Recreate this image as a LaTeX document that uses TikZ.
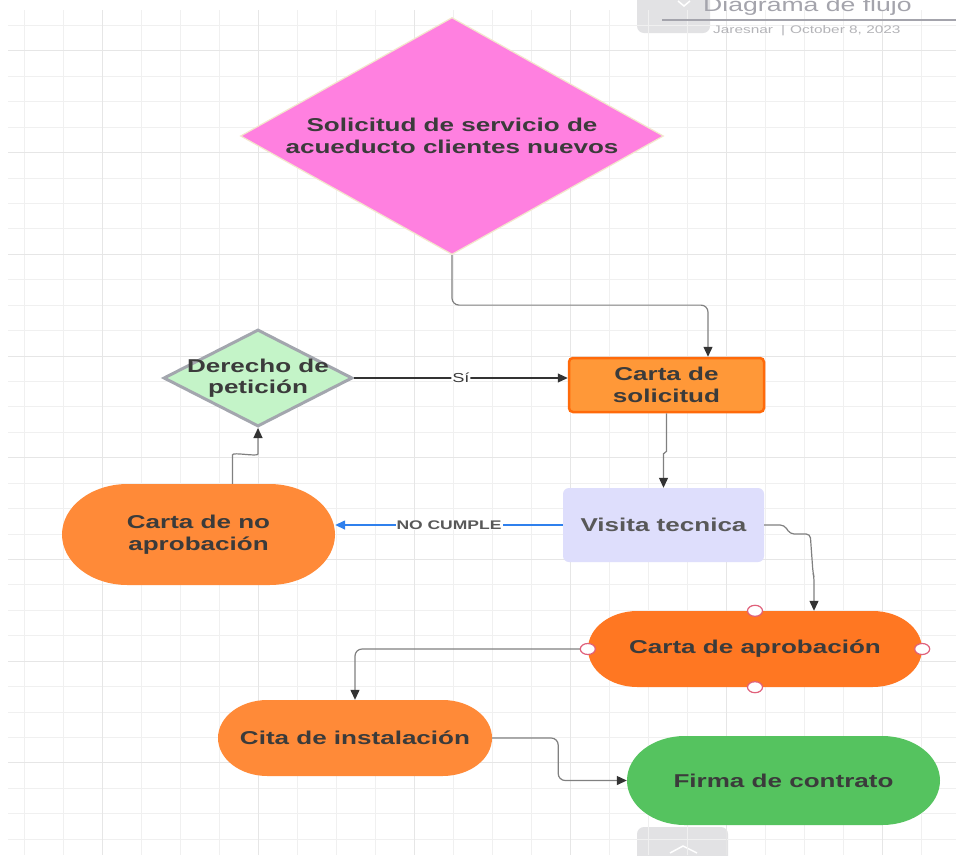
\documentclass[tikz,border=0pt]{standalone}
\usepackage{fontspec}
\setmainfont{Liberation Sans}[FakeStretch=1.4]
\usetikzlibrary{shapes.geometric,arrows.meta,calc}

\definecolor{txt}{HTML}{3B3B3B}
\definecolor{gridminor}{HTML}{F0F0F0}
\definecolor{gridmajor}{HTML}{E6E6E6}
\definecolor{tabgrey}{HTML}{E2E2E4}
\definecolor{hdrgrey}{HTML}{A4A4AC}
\definecolor{metagrey}{HTML}{B4B4B8}
\definecolor{pinkfill}{HTML}{FF80E0}
\definecolor{pinkedge}{HTML}{F3E6CC}
\definecolor{greenlight}{HTML}{C4F4C8}
\definecolor{greyedge}{HTML}{A3A6AE}
\definecolor{orangeA}{HTML}{FF9838}
\definecolor{orangeB}{HTML}{FF6A0A}
\definecolor{orangeC}{HTML}{FF8A38}
\definecolor{orangeD}{HTML}{FF7722}
\definecolor{lavender}{HTML}{DEDEFC}
\definecolor{greenB}{HTML}{55C35F}
\definecolor{linegrey}{HTML}{808080}
\definecolor{tipgrey}{HTML}{333333}
\definecolor{linkblue}{HTML}{2F80ED}
\definecolor{handlered}{HTML}{E0607A}

\begin{document}
\begin{tikzpicture}[x=1pt,y=-1pt,
  boxtext/.style={font=\bfseries\fontsize{18.6}{21.5}\selectfont, text=txt, align=center},
  stad/.style={rectangle, inner sep=0pt, boxtext,
    path picture={
      \fill[#1] let \p1=(path picture bounding box.south west),
                    \p2=(path picture bounding box.north east),
                    \n1={(\y2-\y1)/2}, \n2={1.3*(\y2-\y1)/2} in
        ([xshift=\n2]\x1,\y1) -- ([xshift=-\n2]\x2,\y1)
        arc[start angle=-90, end angle=90, x radius=\n2, y radius=\n1]
        -- ([xshift=\n2]\x1,\y2)
        arc[start angle=90, end angle=270, x radius=\n2, y radius=\n1] -- cycle;
    }},
  handle/.style={ellipse, draw=handlered, fill=white, line width=1.2pt,
    minimum width=15pt, minimum height=11pt, inner sep=0pt},
  conn/.style={draw=linegrey, line width=1.2pt, rounded corners=7pt,
    -{Triangle[length=10pt,width=9pt,color=tipgrey]}},
  darkconn/.style={conn, draw=tipgrey},
  blueconn/.style={draw=linkblue, line width=1.5pt,
    -{Triangle[length=10pt,width=9pt,color=linkblue]}},
  edgelabel/.style={fill=white, inner sep=1pt, text=txt},
]
\useasboundingbox (0,0) rectangle (956,855);
\fill[white] (0,0) rectangle (956,855);

% toolbar tabs at the top and bottom edges
\fill[tabgrey, rounded corners=7pt] (637,-12) rectangle (710,33);
\fill[tabgrey, rounded corners=7pt] (637,827) rectangle (728,875);
\draw[white, line width=1.5pt] (670,853) -- (683,846) -- (697,853);

% background grid
\foreach \k in {0,...,23}
  \draw[gridminor, line width=0.9pt] ({24+39*\k},10) -- ({24+39*\k},855);
\foreach \k in {1,...,33}
  \draw[gridminor, line width=0.9pt] (8,{25.43*\k}) -- (956,{25.43*\k});
\foreach \k in {2,6,...,22}
  \draw[gridmajor, line width=1pt] ({24+39*\k},10) -- ({24+39*\k},855);
\foreach \k in {2,6,...,30}
  \draw[gridmajor, line width=1pt] (8,{25.43*\k}) -- (956,{25.43*\k});

% document header
\node[anchor=base west, inner sep=0pt, text=hdrgrey,
  font=\fontsize{19}{21}\selectfont] (title) at (703,11) {Diagrama de flujo};
\draw[white, line width=1.5pt] (678,1) -- (684,6) -- (690,1);
\draw[hdrgrey, line width=1.5pt] (662,20) -- (956,20);
\node[anchor=base west, inner sep=0pt, text=metagrey,
  font=\fontsize{11}{13}\selectfont] (meta) at (713,33)
  {Jaresnar\hspace{8pt}|\hspace{5pt}October 8, 2023};

% flowchart nodes
\node[diamond, aspect=1.785, minimum width=423pt, minimum height=237pt,
  inner sep=0pt, fill=pinkfill, draw=pinkedge, line width=1.2pt, boxtext]
  (req) at (452,136) {Solicitud de servicio de\\acueducto clientes nuevos};

\node[diamond, aspect=1.92, minimum width=189pt, minimum height=97pt,
  inner sep=0pt, fill=greenlight, draw=greyedge, line width=3pt,
  label={[boxtext]center:{Derecho de\\petición}}] (der) at (258,378) {};

\node[rectangle, rounded corners=4pt, minimum width=195pt, minimum height=54pt,
  fill=orangeA, draw=orangeB, line width=2.5pt, boxtext]
  (cs) at (666.5,385) {Carta de\\solicitud};

\node[rectangle, rounded corners=6pt, minimum width=201pt, minimum height=74pt,
  fill=lavender, boxtext, text=txt!85] (vs) at (663.5,525) {Visita tecnica};

\node[stad=orangeC, minimum width=273pt, minimum height=101pt]
  (cn) at (198.5,534.5) {Carta de no\\aprobación};

\node[stad=orangeD, minimum width=334pt, minimum height=76pt]
  (ca) at (755,649) {Carta de aprobación};

\node[stad=orangeC, minimum width=274pt, minimum height=76pt]
  (ci) at (355,738) {Cita de instalación};

\node[stad=greenB, minimum width=313pt, minimum height=89pt]
  (fc) at (783.5,780.5) {Firma de contrato};

% connectors
\coordinate (csin) at ([xshift=41.5pt]cs.north);
\draw[conn] (req.south) -- ++(0,50) -| (csin);

\draw[darkconn, line width=1.1pt] (der.east) --
  node[edgelabel, font=\fontsize{13}{15}\selectfont] {Sí} (der.east -| cs.west);

\draw[conn, sharp corners] (cs.south) -- ++(0,38)
  -- ($(vs.north)+(0,-34)$) -- (vs.north);

\draw[blueconn] (vs.west) --
  node[edgelabel, font=\bfseries\fontsize{12.5}{14}\selectfont, text=txt!85]
  {NO CUMPLE} (vs.west -| cn.east);

\coordinate (cain) at ([xshift=59pt]ca.north);
\draw[conn, rounded corners=4pt] (vs.east) -- ++(20,0) -- ++(6,9) -- ++(20,0)
  -- ($(cain)+(-1,-38)$) -- ($(cain)+(0,-34)$) -- (cain);

\coordinate (cnout) at ([xshift=34pt]cn.north);
\draw[conn] (cnout) -- ++(0,-22)
  .. controls +(0,-10) and +(0,10) .. ($(der.south)+(0,19)$) -- (der.south);

\draw[conn] (ca.west) -| (ci.north);

\draw[conn] (ci.east) -- ++(66,0) |- (fc.west);

% selection handles on the approval node
\node[handle] (hn) at (ca.north) {};
\node[handle] (hs) at (ca.south) {};
\node[handle] (hw) at (ca.west) {};
\node[handle] (he) at (ca.east) {};
\end{tikzpicture}
\end{document}
